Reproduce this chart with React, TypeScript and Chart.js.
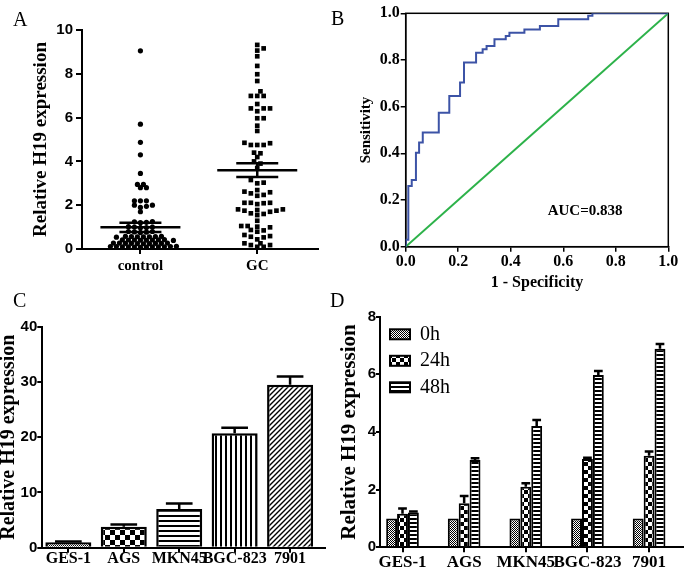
import React, { useEffect, useRef } from 'react';
import { Chart, registerables } from 'chart.js';

Chart.register(...registerables);

const SERIF = '"Liberation Serif", "Times New Roman", serif';
const SANS = '"Liberation Sans", Arial, sans-serif';

// ---------------- Panel A : scatter of relative H19 expression ----------------
const A_GROUPS = ['control', 'GC'];
const A_CONTROL = [
  9.05, 5.7, 4.87, 4.3, 3.45, 2.95, 2.8, 2.8, 2.95, 2.2, 2.2, 2.2, 2.0, 2.0, 1.95, 1.9, 1.7,
  1.25, 1.24, 1.22, 1.2, 1.02, 1.0, 1.0, 0.98, 0.97, 0.8, 0.8, 0.78, 0.77, 0.75,
  0.58, 0.56, 0.57, 0.55, 0.56, 0.58, 0.54, 0.57,
  0.42, 0.41, 0.4, 0.43, 0.41, 0.4, 0.42, 0.41, 0.39,
  0.27, 0.26, 0.25, 0.26, 0.27, 0.24, 0.26, 0.25, 0.27, 0.26,
  0.1, 0.11, 0.09, 0.1, 0.12, 0.1, 0.08, 0.11, 0.1, 0.09, 0.1, 0.11,
];
const A_GC = [
  9.32, 9.16, 9.06, 8.8, 8.36, 7.98, 7.67, 7.2, 6.99, 6.99, 6.99, 6.62, 6.42, 6.42, 6.42, 6.29,
  5.97, 5.97, 5.63, 5.39,
  4.85, 4.75, 4.75, 4.75, 4.83, 4.4, 4.37, 4.2, 4.0, 3.9, 3.7,
  3.15, 3.03, 3.0,
  2.62, 2.54, 2.43, 2.47, 2.59, 2.69,
  2.11, 2.09, 2.05, 2.11, 2.11,
  1.81, 1.75, 1.7, 1.78, 1.75, 1.81, 1.63, 1.55, 1.6,
  1.29, 1.05, 0.99, 1.02, 1.05, 0.79, 0.87, 0.85,
  0.56, 0.53, 0.44, 0.59, 0.64, 0.26, 0.18, 0.18, 0.26, 0.1, 0.1,
];
const A_MEAN = [0.99, 3.6];
const A_SEM = [0.21, 0.31];

// ---------------- Panel B : ROC curve ----------------
const B_FPR = [0, 0, 0.01, 0.023, 0.039, 0.051, 0.065, 0.126, 0.166, 0.207, 0.222, 0.268, 0.293, 0.308, 0.338, 0.381, 0.395, 0.452, 0.511, 0.581, 0.695, 0.711, 1.0];
const B_TPR = [0, 0.03, 0.26, 0.286, 0.403, 0.446, 0.489, 0.574, 0.646, 0.703, 0.789, 0.831, 0.846, 0.86, 0.889, 0.903, 0.917, 0.931, 0.946, 0.974, 0.989, 1.0, 1.0];
const B_REF_X = [0, 1];
const B_REF_Y = [0, 1];
const B_AUC = 0.838;

// ---------------- Panel C : cell lines ----------------
const C_CELLS = ['GES-1', 'AGS', 'MKN45', 'BGC-823', '7901'];
const C_VALUES = [1.0, 3.8, 7.0, 20.7, 29.5];
const C_SEM = [0.1, 0.4, 1.0, 1.0, 1.5];

// ---------------- Panel D : time course ----------------
const D_CELLS = ['GES-1', 'AGS', 'MKN45', 'BGC-823', '7901'];
const D_TIMES = ['0h', '24h', '48h'];
const D_0H = [1, 1, 1, 1, 1];
const D_24H = [1.16, 1.53, 2.1, 3.06, 3.18];
const D_48H = [1.21, 3.03, 4.21, 5.98, 6.89];
const D_0H_SEM = [0, 0, 0, 0, 0];
const D_24H_SEM = [0.19, 0.25, 0.12, 0.05, 0.14];
const D_48H_SEM = [0.03, 0.06, 0.21, 0.14, 0.16];

// ---------------- helpers ----------------
function swarm(values: number[], center: number, xPx: number, yPx: number, step: number, minD: number) {
  const order = values.map((_, i) => i).sort((a, b) => values[a] - values[b]);
  const placed: { x: number; y: number }[] = [];
  const out: { x: number; y: number }[] = new Array(values.length);
  for (const i of order) {
    const py = values[i] * yPx;
    for (let k = 0; k < 400; k++) {
      const n = k === 0 ? 0 : k % 2 ? (k + 1) / 2 : -k / 2;
      const px = n * step;
      let ok = true;
      for (const p of placed) {
        if ((p.x - px) ** 2 + (p.y - py) ** 2 < minD * minD) { ok = false; break; }
      }
      if (ok) {
        placed.push({ x: px, y: py });
        out[i] = { x: center + px / xPx, y: values[i] };
        break;
      }
    }
  }
  return out;
}

function makePattern(ctx: CanvasRenderingContext2D, w: number, h: number, draw: (g: CanvasRenderingContext2D) => void) {
  const c = document.createElement('canvas');
  c.width = w;
  c.height = h;
  const g = c.getContext('2d')!;
  g.fillStyle = '#fff';
  g.fillRect(0, 0, w, h);
  g.fillStyle = '#000';
  g.strokeStyle = '#000';
  draw(g);
  return ctx.createPattern(c, 'repeat')!;
}
const fineChecker = (ctx: any) => makePattern(ctx, 2, 2, (g) => { g.fillRect(0, 0, 1, 1); g.fillRect(1, 1, 1, 1); });
const checker = (ctx: any, n: number) => makePattern(ctx, 2 * n, 2 * n, (g) => { g.fillRect(0, 0, n, n); g.fillRect(n, n, n, n); });
const hLines = (ctx: any, n: number, w: number) => makePattern(ctx, n, n, (g) => g.fillRect(0, 0, n, w));
const vLines = (ctx: any, n: number, w: number) => makePattern(ctx, n, n, (g) => g.fillRect(0, 0, w, n));
const diagLines = (ctx: any, n: number) => makePattern(ctx, n, n, (g) => {
  g.lineWidth = 1.4;
  g.beginPath();
  g.moveTo(0, n); g.lineTo(n, 0);
  g.moveTo(-1, 1); g.lineTo(1, -1);
  g.moveTo(n - 1, n + 1); g.lineTo(n + 1, n - 1);
  g.stroke();
});

const gridTicks = (tickLength: number, lw = 2) => ({
  display: true,
  drawOnChartArea: false,
  drawTicks: true,
  tickLength,
  color: '#000',
  lineWidth: lw,
  offset: false,
});
const border = (w = 2) => ({ display: true, color: '#000', width: w });
const font = (family: string, size: number, weight: any = 'bold', lineHeight = 1) => ({ family, size, weight, lineHeight });

const meanSemPlugin = {
  id: 'meanSem',
  afterDatasetsDraw(chart: any) {
    const { ctx } = chart;
    const x = chart.scales.x;
    const y = chart.scales.y;
    ctx.save();
    ctx.strokeStyle = '#000';
    ctx.lineWidth = 2.5;
    A_MEAN.forEach((m, i) => {
      const cx = x.getPixelForValue(i);
      const ym = y.getPixelForValue(m);
      const yt = y.getPixelForValue(m + A_SEM[i]);
      const yb = y.getPixelForValue(m - A_SEM[i]);
      ctx.beginPath();
      ctx.moveTo(cx - 40, ym); ctx.lineTo(cx + 40, ym);
      ctx.moveTo(cx - 21, yt); ctx.lineTo(cx + 21, yt);
      ctx.moveTo(cx - 21, yb); ctx.lineTo(cx + 21, yb);
      ctx.moveTo(cx, yt); ctx.lineTo(cx, yb);
      ctx.stroke();
    });
    ctx.restore();
  },
};

const framePlugin = {
  id: 'frame',
  beforeDatasetsDraw(chart: any) {
    const { ctx, chartArea: a } = chart;
    ctx.save();
    ctx.strokeStyle = '#000';
    ctx.lineWidth = 1.5;
    ctx.strokeRect(a.left, a.top, a.right - a.left, a.bottom - a.top);
    ctx.restore();
  },
};

const aucPlugin = {
  id: 'auc',
  afterDatasetsDraw(chart: any) {
    const { ctx } = chart;
    ctx.save();
    ctx.fillStyle = '#000';
    ctx.font = `bold 15px ${SERIF}`;
    ctx.textAlign = 'center';
    ctx.textBaseline = 'middle';
    ctx.fillText(`AUC=${B_AUC.toFixed(3)}`, chart.scales.x.getPixelForValue(0.683), chart.scales.y.getPixelForValue(0.154));
    ctx.restore();
  },
};

const errorBarPlugin = {
  id: 'errorBars',
  afterDatasetsDraw(chart: any) {
    const { ctx } = chart;
    const y = chart.scales.y;
    chart.data.datasets.forEach((ds: any, di: number) => {
      const errs = ds.errors;
      if (!errs) return;
      const meta = chart.getDatasetMeta(di);
      meta.data.forEach((el: any, i: number) => {
        const e = errs[i];
        if (!e) return;
        const v = ds.data[i].y;
        const top = y.getPixelForValue(v + e);
        const { x, y: by, width } = el.getProps(['x', 'y', 'width'], true);
        const cap = width * (ds.capRatio ?? 0.6);
        ctx.save();
        ctx.strokeStyle = '#000';
        ctx.lineWidth = ds.errWidth ?? 2.5;
        ctx.beginPath();
        ctx.moveTo(x, by); ctx.lineTo(x, top);
        ctx.moveTo(x - cap / 2, top); ctx.lineTo(x + cap / 2, top);
        ctx.stroke();
        ctx.restore();
      });
    });
  },
};

const legendPlugin = {
  id: 'dLegend',
  afterDraw(chart: any) {
    const { ctx, chartArea } = chart;
    chart.data.datasets.forEach((ds: any, i: number) => {
      const bx = chartArea.left + 10;
      const cy = chartArea.top + 17.6 + i * 26.5;
      ctx.save();
      ctx.fillStyle = ds.backgroundColor;
      ctx.fillRect(bx, cy - 5, 20, 10);
      ctx.lineWidth = 2;
      ctx.strokeStyle = '#000';
      ctx.strokeRect(bx, cy - 5, 20, 10);
      ctx.fillStyle = '#000';
      ctx.font = `20px ${SERIF}`;
      ctx.textBaseline = 'middle';
      ctx.textAlign = 'left';
      ctx.fillText(ds.label, chartArea.left + 40, cy);
      ctx.restore();
    });
  },
};

const baseOptions = (padTop: number, padRight: number) => ({
  responsive: false,
  animation: false,
  events: [],
  layout: { padding: { left: 0, top: padTop, right: padRight, bottom: 0 } },
  plugins: { legend: { display: false }, tooltip: { enabled: false } },
});

// ---------------- chart builders ----------------
function buildA(ctx: any) {
  const xPx = 236 / 2.02;
  const yPx = 21.9;
  return {
    type: 'scatter',
    data: {
      datasets: [
        { label: A_GROUPS[0], data: swarm(A_CONTROL, 0, xPx, yPx, 3.0, 4.3), pointStyle: 'circle', pointRadius: 2.6, backgroundColor: '#000', borderColor: '#000', borderWidth: 0 },
        { label: A_GROUPS[1], data: swarm(A_GC, 1, xPx, yPx, 3.2, 4.6), pointStyle: 'rect', pointRadius: 3.3, backgroundColor: '#000', borderColor: '#000', borderWidth: 0 },
      ],
    },
    options: {
      ...baseOptions(30, 17),
      scales: {
        x: {
          type: 'linear', min: -0.5, max: 1.52, offset: false,
          afterBuildTicks: (s: any) => { s.ticks = A_GROUPS.map((_, i) => ({ value: i })); },
          afterFit: (s: any) => { s.height = 41; },
          grid: gridTicks(5),
          border: border(2),
          ticks: { color: '#000', callback: (v: any) => A_GROUPS[v] ?? '', font: font(SERIF, 15), padding: 5, maxRotation: 0, autoSkip: false },
        },
        y: {
          type: 'linear', min: 0, max: 10,
          afterFit: (s: any) => { s.width = 82; },
          grid: gridTicks(6),
          border: border(2),
          ticks: { color: '#000', stepSize: 2, font: font(SANS, 15), padding: 3 },
          title: { display: true, text: 'Relative H19 expression', color: '#000', font: font(SERIF, 19, 'bold', 1.2), padding: { top: 30, bottom: 0 } },
        },
      },
    },
    plugins: [meanSemPlugin],
  };
}

function buildB(ctx: any) {
  return {
    type: 'line',
    data: {
      datasets: [
        { data: B_FPR.map((x, i) => ({ x, y: B_TPR[i] })), borderColor: '#3c53a6', borderWidth: 2, stepped: 'before', pointRadius: 0, fill: false },
        { data: B_REF_X.map((x, i) => ({ x, y: B_REF_Y[i] })), borderColor: '#2db24a', borderWidth: 2, pointRadius: 0, fill: false },
      ],
    },
    options: {
      ...baseOptions(13.3, 16.7),
      scales: {
        x: {
          type: 'linear', min: 0, max: 1, offset: false,
          afterFit: (s: any) => { s.height = 48.3; },
          grid: gridTicks(5, 1.5),
          border: border(1.5),
          ticks: { color: '#000', stepSize: 0.2, callback: (v: any) => Number(v).toFixed(1), font: font(SERIF, 16), padding: 2, maxRotation: 0 },
          title: { display: true, text: '1 - Specificity', color: '#000', font: font(SERIF, 16), padding: { top: 0, bottom: 4 } },
        },
        y: {
          type: 'linear', min: 0, max: 1,
          afterFit: (s: any) => { s.width = 70.7; },
          grid: gridTicks(5, 1.5),
          border: border(1.5),
          ticks: { color: '#000', stepSize: 0.2, callback: (v: any) => Number(v).toFixed(1), font: font(SERIF, 16), padding: 1 },
          title: { display: true, text: 'Sensitivity', color: '#000', font: font(SERIF, 15), padding: { top: 24, bottom: 0 } },
        },
      },
    },
    plugins: [framePlugin, aucPlugin],
  };
}

function buildC(ctx: any) {
  return {
    type: 'bar',
    data: {
      datasets: [
        {
          data: C_VALUES.map((y, i) => ({ x: i, y })),
          errors: C_SEM,
          capRatio: 0.58,
          backgroundColor: [fineChecker(ctx), checker(ctx, 5), hLines(ctx, 5, 2), vLines(ctx, 5, 2), diagLines(ctx, 5)],
          borderColor: '#000',
          borderWidth: 2.5,
          barPercentage: 0.83,
          categoryPercentage: 1,
        },
      ],
    },
    options: {
      ...baseOptions(36.7, 15),
      scales: {
        x: {
          type: 'linear', min: -0.47, max: 4.63, offset: false,
          afterBuildTicks: (s: any) => { s.ticks = C_CELLS.map((_, i) => ({ value: i })); },
          afterFit: (s: any) => { s.height = 24.3; },
          grid: gridTicks(5),
          border: border(2),
          ticks: { color: '#000', callback: (v: any) => C_CELLS[v] ?? '', font: font(SERIF, 16), padding: -2, maxRotation: 0, autoSkip: false },
        },
        y: {
          type: 'linear', min: 0, max: 40,
          afterFit: (s: any) => { s.width = 42.3; },
          grid: gridTicks(5),
          border: border(2),
          ticks: { color: '#000', stepSize: 10, font: font(SANS, 15), padding: 0 },
          title: { display: true, text: 'Relative H19 expression', color: '#000', font: font(SERIF, 20, 'bold', 0.85), padding: { top: 0, bottom: 0 } },
        },
      },
    },
    plugins: [errorBarPlugin],
  };
}

function buildD(ctx: any) {
  const series = [D_0H, D_24H, D_48H];
  const errs = [D_0H_SEM, D_24H_SEM, D_48H_SEM];
  const fills = [fineChecker(ctx), checker(ctx, 4), hLines(ctx, 4, 2)];
  return {
    type: 'bar',
    data: {
      datasets: series.map((vals, s) => ({
        label: D_TIMES[s],
        data: vals.map((y, i) => ({ x: i, y })),
        errors: errs[s],
        capRatio: 0.8,
        backgroundColor: fills[s],
        borderColor: '#000',
        borderWidth: 2,
        barPercentage: 1,
        categoryPercentage: 0.53,
      })),
    },
    options: {
      ...baseOptions(26.7, 2),
      scales: {
        x: {
          type: 'linear', min: -0.365, max: 4.55, offset: false,
          afterBuildTicks: (s: any) => { s.ticks = D_CELLS.map((_, i) => ({ value: i })); },
          afterFit: (s: any) => { s.height = 24.7; },
          grid: gridTicks(5),
          border: border(2),
          ticks: { color: '#000', callback: (v: any) => D_CELLS[v] ?? '', font: font(SERIF, 17), padding: 2, maxRotation: 0, autoSkip: false },
        },
        y: {
          type: 'linear', min: 0, max: 8,
          afterFit: (s: any) => { s.width = 40; },
          grid: gridTicks(4),
          border: border(2),
          ticks: { color: '#000', stepSize: 2, font: font(SANS, 15), padding: 0 },
          title: { display: true, text: 'Relative H19 expression', color: '#000', font: font(SERIF, 21, 'bold', 0.95), padding: { top: 0, bottom: 0 } },
        },
      },
    },
    plugins: [errorBarPlugin, legendPlugin],
  };
}

function ChartCanvas({ left, top, width, height, build }: any) {
  const ref = useRef<HTMLCanvasElement>(null);
  useEffect(() => {
    const canvas = ref.current!;
    const ctx = canvas.getContext('2d')!;
    const chart = new Chart(ctx, build(ctx));
    return () => chart.destroy();
  }, []);
  return (
    <canvas
      ref={ref}
      width={width}
      height={height}
      style={{ position: 'absolute', left, top, width, height }}
    />
  );
}

const letterStyle = (left: number, top: number): React.CSSProperties => ({
  position: 'absolute',
  left,
  top,
  fontFamily: SERIF,
  fontSize: 20,
  lineHeight: '20px',
  color: '#000',
});

export default function App() {
  return (
    <div style={{ position: 'absolute', left: 0, top: 0, width: 685, height: 572, background: '#fff', overflow: 'hidden' }}>
      <ChartCanvas left={0} top={0} width={335} height={290} build={buildA} />
      <ChartCanvas left={335} top={0} width={350} height={295} build={buildB} />
      <ChartCanvas left={0} top={290} width={340} height={282} build={buildC} />
      <ChartCanvas left={340} top={290} width={345} height={282} build={buildD} />
      <span style={letterStyle(13, 9)}>A</span>
      <span style={letterStyle(331, 8)}>B</span>
      <span style={letterStyle(13, 290)}>C</span>
      <span style={letterStyle(330, 290)}>D</span>
    </div>
  );
}
